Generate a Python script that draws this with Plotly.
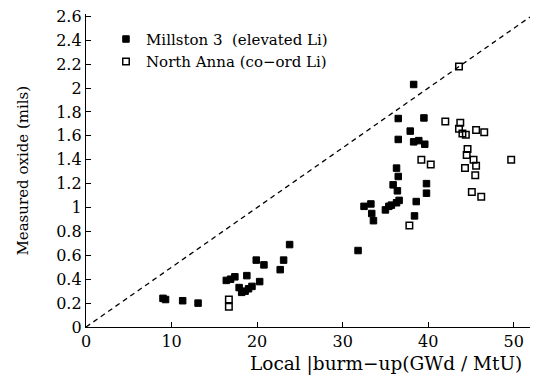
import plotly.graph_objects as go

# Millstone 3 (elevated Li) - filled squares
mill_x = [9.0, 9.3, 11.3, 13.1,
          16.4, 16.9, 17.4, 18.8, 17.9, 18.2, 18.6, 19.0, 19.4, 20.3, 19.9, 20.8, 22.7, 23.1, 23.8,
          31.8, 32.5, 33.3, 33.4, 33.6,
          35.0, 35.4, 35.7, 36.3, 36.6, 36.3, 36.5, 35.9, 36.4, 36.5, 36.5, 37.9, 38.3, 38.3, 38.9,
          39.6, 39.5, 38.4, 38.6, 39.8, 39.8]
mill_y = [0.24, 0.23, 0.22, 0.20,
          0.39, 0.40, 0.42, 0.43, 0.33, 0.29, 0.30, 0.32, 0.34, 0.38, 0.56, 0.52, 0.48, 0.56, 0.69,
          0.64, 1.01, 1.03, 0.95, 0.89,
          0.98, 1.01, 1.02, 1.04, 1.06, 1.33, 1.26, 1.19, 1.14, 1.57, 1.745, 1.64, 2.03, 1.55, 1.56,
          1.53, 1.75, 0.93, 1.05, 1.20, 1.12]

# North Anna (co-ord Li) - open squares
na_x = [16.7, 16.7, 37.8, 39.2, 40.3, 42.0, 43.6, 43.75, 43.6, 44.0, 44.4, 45.6, 46.55,
        44.6, 44.5, 45.3, 45.6, 44.3, 45.5, 49.7, 45.1, 46.2]
na_y = [0.23, 0.17, 0.85, 1.40, 1.36, 1.72, 2.18, 1.71, 1.66, 1.62, 1.61, 1.65, 1.63,
        1.49, 1.44, 1.40, 1.35, 1.33, 1.27, 1.40, 1.13, 1.09]

# reference line: oxide = 0.05 * burnup
line_x = [0, 51.9]
line_slope = 0.05

x_ticks = [0, 10, 20, 30, 40, 50]
y_ticks = [0, 0.2, 0.4, 0.6, 0.8, 1, 1.2, 1.4, 1.6, 1.8, 2, 2.2, 2.4, 2.6]
y_tick_text = ["0", "0.2", "0.4", "0.6", "0.8", "1", "1.2", "1.4", "1.6", "1.8", "2", "2.2", "2.4", "2.6"]

FONT = "DejaVu Serif"

fig = go.Figure()
fig.add_trace(go.Scatter(x=line_x, y=[v * line_slope for v in line_x], mode="lines",
                         line=dict(color="black", width=1.3, dash="5px,4px"),
                         showlegend=False, hoverinfo="skip"))
fig.add_trace(go.Scatter(x=mill_x, y=mill_y, mode="markers",
                         name="Millston 3\u00a0\u00a0(elevated Li)",
                         marker=dict(symbol="square", size=6.5, color="black",
                                     line=dict(color="black", width=1))))
fig.add_trace(go.Scatter(x=na_x, y=na_y, mode="markers",
                         name="North Anna (co\u2212ord Li)",
                         marker=dict(symbol="square-open", size=6.5, color="black",
                                     line=dict(color="black", width=1.5))))

fig.update_layout(
    width=534, height=378,
    margin=dict(l=86, r=4, t=14, b=51),
    paper_bgcolor="white", plot_bgcolor="white",
    font=dict(family=FONT, size=14, color="black"),
    showlegend=True,
    legend=dict(x=0.045, y=0.972, xanchor="left", yanchor="top",
                font=dict(family=FONT, size=15, color="black"),
                bgcolor="rgba(0,0,0,0)", itemwidth=30, tracegroupgap=0),
    xaxis=dict(range=[0, 51.9], tickvals=x_ticks, ticks="inside", ticklen=5,
               tickcolor="black", showline=True, linecolor="black", linewidth=1.3,
               showgrid=False, zeroline=False, tickfont=dict(family=FONT, size=16)),
    yaxis=dict(range=[0, 2.62], tickvals=y_ticks, ticktext=y_tick_text, ticks="inside",
               ticklen=5, tickcolor="black", showline=True, linecolor="black", linewidth=1.3,
               showgrid=False, zeroline=False, tickfont=dict(family=FONT, size=16)),
    annotations=[
        dict(text="Local |burm\u2212up(GWd / MtU)", xref="paper", yref="paper",
             x=0.676, y=-0.118, xanchor="center", yanchor="middle", showarrow=False,
             font=dict(family=FONT, size=18.5)),
        dict(text="Measured oxide (mils)", xref="paper", yref="paper",
             x=-0.144, y=0.5, xanchor="center", yanchor="middle", textangle=-90,
             showarrow=False, font=dict(family=FONT, size=15)),
    ],
)

fig.write_html("out.html", config={"displayModeBar": False},
               post_script="document.body.style.margin='0';")
